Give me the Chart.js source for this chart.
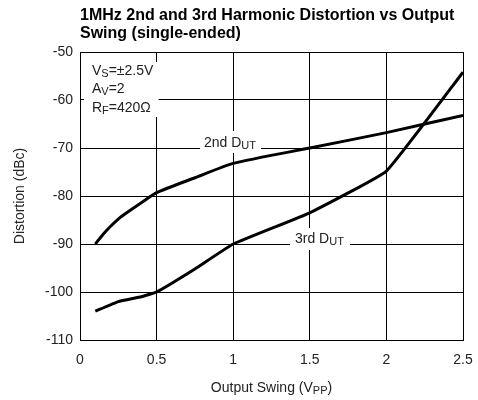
<!DOCTYPE html>
<html>
<head>
<meta charset="utf-8">
<script src="https://cdn.jsdelivr.net/npm/chart.js@4"></script>
<style>
  body { margin: 0; background: #fff; }
  canvas { display: block; }
</style>
</head>
<body>
<canvas id="distChart" width="478" height="400"></canvas>
<script>
// values
const swing2nd = [0.1, 0.15, 0.2, 0.25, 0.3, 0.4, 0.5, 0.75, 1.0, 1.5, 2.0, 2.5];
const dist2nd = [-90, -88, -86.3, -84.8, -83.6, -81.4, -79.3, -76.2, -73.2, -70, -66.8, -63.2];
const swing3rd = [0.1, 0.25, 0.4, 0.5, 0.75, 1.0, 1.5, 2.0, 2.5];
const dist3rd = [-104, -102, -101, -100, -95.2, -90, -83.5, -74.8, -54.2];
const xTicks = [0, 0.5, 1, 1.5, 2, 2.5];
const yTicks = [-110, -100, -90, -80, -70, -60, -50];
const titleLines = ['1MHz 2nd and 3rd Harmonic Distortion vs Output', 'Swing (single-ended)'];

const FONT = '"Liberation Sans", Arial, sans-serif';

const toPoints = (xs, ys) => xs.map((x, i) => ({ x, y: ys[i] }));

// draw a run of text pieces, some as subscripts; returns end x
function drawRich(ctx, parts, x, y, size) {
  ctx.textAlign = 'left';
  ctx.textBaseline = 'alphabetic';
  let cx = x;
  parts.forEach(([txt, sub]) => {
    ctx.font = (sub ? Math.round(size * 0.75) : size) + 'px ' + FONT;
    ctx.fillText(txt, cx, sub ? y + 2 : y);
    cx += ctx.measureText(txt).width;
  });
  return cx;
}

function richWidth(ctx, parts, size) {
  let w = 0;
  parts.forEach(([txt, sub]) => {
    ctx.font = (sub ? Math.round(size * 0.75) : size) + 'px ' + FONT;
    w += ctx.measureText(txt).width;
  });
  return w;
}

const labelsPlugin = {
  id: 'labels',
  beforeDatasetsDraw(chart) {
    const c = chart.ctx;
    const xs = chart.scales.x, ys = chart.scales.y;
    c.save();
    // white boxes that hide the grid behind the notes
    c.fillStyle = '#fff';
    c.fillRect(xs.left + 4, ys.top + 10, xs.getPixelForValue(0.5) - xs.left - 2, 55);
    c.fillRect(200, 131, 61, 22);
    c.fillRect(290, 228, 60, 22);

    c.fillStyle = '#222';
    drawRich(c, [['V', false], ['S', true], ['=±2.5V', false]], 92, 75, 14);
    drawRich(c, [['A', false], ['V', true], ['=2', false]], 92, 93, 14);
    drawRich(c, [['R', false], ['F', true], ['=420Ω', false]], 92, 112, 14);

    drawRich(c, [['2nd D', false], ['UT', true]], 204, 147, 14);
    drawRich(c, [['3rd D', false], ['UT', true]], 295, 243, 14);
    c.restore();
  },
  afterDraw(chart) {
    const c = chart.ctx;
    const xs = chart.scales.x;
    c.save();
    c.fillStyle = '#000';
    c.font = 'bold 16px ' + FONT;
    c.textAlign = 'left';
    c.textBaseline = 'alphabetic';
    c.fillText(titleLines[0], 80, 20);
    c.fillText(titleLines[1], 80, 38);

    c.fillStyle = '#222';
    const xt = [['Output Swing (V', false], ['PP', true], [')', false]];
    const w = richWidth(c, xt, 14);
    drawRich(c, xt, (xs.left + xs.right) / 2 - w / 2, 392, 14);

    c.translate(24, 196);
    c.rotate(-Math.PI / 2);
    c.font = '14px ' + FONT;
    c.textAlign = 'center';
    c.fillText('Distortion (dBc)', 0, 0);
    c.restore();
  }
};

new Chart(document.getElementById('distChart').getContext('2d'), {
  type: 'line',
  data: {
    datasets: [
      {
        label: '2nd',
        data: toPoints(swing2nd, dist2nd),
        borderColor: '#000',
        borderWidth: 3,
        pointRadius: 0,
        tension: 0.2,
        fill: false
      },
      {
        label: '3rd',
        data: toPoints(swing3rd, dist3rd),
        borderColor: '#000',
        borderWidth: 3,
        pointRadius: 0,
        tension: 0.1,
        fill: false
      }
    ]
  },
  options: {
    responsive: false,
    animation: false,
    layout: { padding: { top: 52, right: 15, bottom: 0, left: 0 } },
    plugins: { legend: { display: false }, title: { display: false }, tooltip: { enabled: false } },
    scales: {
      x: {
        type: 'linear',
        min: 0,
        max: 2.5,
        afterBuildTicks: s => { s.ticks = xTicks.map(v => ({ value: v })); },
        afterFit: s => { s.height = 60; s.paddingLeft = 0; s.paddingRight = 0; },
        grid: { color: '#000', lineWidth: 1, drawTicks: false },
        border: { color: '#000', width: 1 },
        ticks: { color: '#222', font: { family: FONT, size: 14 }, padding: 12, maxRotation: 0,
                 callback: v => String(v) }
      },
      y: {
        min: -110,
        max: -50,
        afterBuildTicks: s => { s.ticks = yTicks.map(v => ({ value: v })); },
        afterFit: s => { s.width = 80; s.paddingTop = 0; s.paddingBottom = 0; },
        grid: { color: '#000', lineWidth: 1, drawTicks: false },
        border: { color: '#000', width: 1 },
        ticks: { color: '#222', font: { family: FONT, size: 14 }, padding: 7 }
      }
    }
  },
  plugins: [labelsPlugin]
});
</script>
</body>
</html>
